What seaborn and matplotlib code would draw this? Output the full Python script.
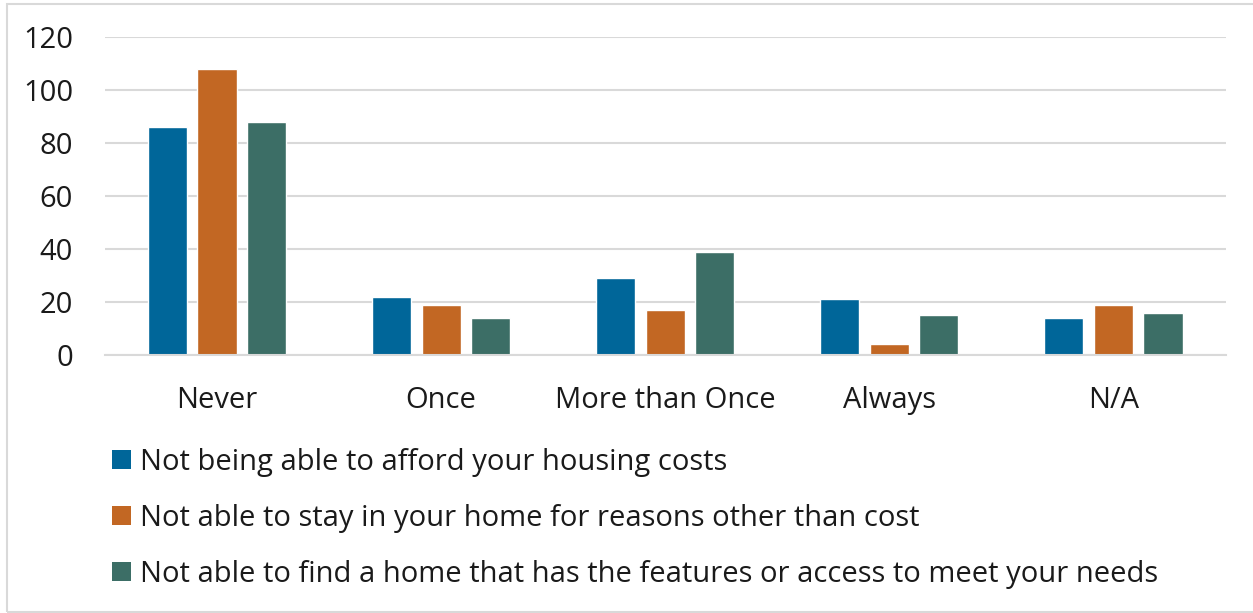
import matplotlib
matplotlib.use("Agg")
import matplotlib.pyplot as plt
from matplotlib.patches import Patch, Rectangle
import seaborn as sns
import pandas as pd

# Survey responses: how often each housing difficulty occurred
frequencies = ["Never", "Once", "More than Once", "Always", "N/A"]
series_names = [
    "Not being able to afford your housing costs",
    "Not able to stay in your home for reasons other than cost",
    "Not able to find a home that has the features or access to meet your needs",
]
afford_costs = [86, 22, 29, 21, 14]
stay_other_reasons = [108, 19, 17, 4, 19]
find_suitable_home = [88, 14, 39, 15, 16]
y_ticks = [0, 20, 40, 60, 80, 100, 120]

palette = ["#006699", "#C26723", "#3C6E66"]

records = []
for name, values in zip(series_names, [afford_costs, stay_other_reasons, find_suitable_home]):
    for freq, v in zip(frequencies, values):
        records.append({"Frequency": freq, "Issue": name, "Count": v})
df = pd.DataFrame(records)

sns.set_theme(style="white")
plt.rcParams["font.family"] = ["Open Sans", "DejaVu Sans"]
text_color = "#1a1a1a"
font_size = 21

W, H = 1253, 613
fig = plt.figure(figsize=(W / 100, H / 100), dpi=100)
ax = fig.add_axes([105 / W, 1 - 355 / H, (1225.5 - 105) / W, (355 - 37) / H])

sns.barplot(
    data=df, x="Frequency", y="Count", hue="Issue",
    order=frequencies, hue_order=series_names, palette=palette,
    width=0.663, gap=0.21, saturation=1, legend=False, ax=ax,
)

ax.set_ylim(0, 120)
ax.set_xlim(-0.5, len(frequencies) - 0.5)
ax.set_yticks(y_ticks)
ax.set_yticklabels([str(t) for t in y_ticks])
ax.set_xlabel("")
ax.set_ylabel("")
ax.set_axisbelow(True)
ax.yaxis.grid(True, color="#d9d9d9", linewidth=1.5)
ax.xaxis.grid(False)
for side in ["left", "right", "top"]:
    ax.spines[side].set_visible(False)
ax.spines["bottom"].set_color("#d9d9d9")
ax.spines["bottom"].set_linewidth(1.5)
ax.tick_params(axis="y", length=0, pad=23, labelsize=font_size, labelcolor=text_color)
ax.tick_params(axis="x", length=0, pad=22, labelsize=font_size, labelcolor=text_color)

handles = [Patch(facecolor=c, edgecolor="none") for c in palette]
fig.legend(
    handles, series_names,
    loc="upper left", bbox_to_anchor=(112 / W, 1 - 448 / H),
    frameon=False, fontsize=font_size, labelcolor=text_color,
    handlelength=0.65, handleheight=0.65, handletextpad=0.31,
    labelspacing=0.92, borderaxespad=0, borderpad=0,
)

# Light frame around the whole figure
fig.patches.append(Rectangle(
    (6.5 / W, 1 - 611.5 / H), (W + 5 - 6.5) / W, (611.5 - 3.5) / H,
    transform=fig.transFigure, fill=False, edgecolor="#d9d9d9", linewidth=1.5,
))

fig.savefig("out.png", dpi=100, facecolor="white")
